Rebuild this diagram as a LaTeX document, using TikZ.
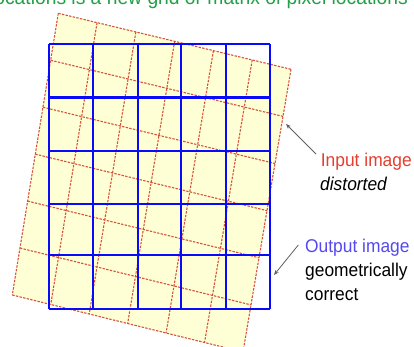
\documentclass[tikz,border=0pt]{standalone}
\usepackage{fontspec}
\setmainfont{Liberation Sans}
\usepackage{graphicx}
\usepackage{xcolor}
\usetikzlibrary{calc,arrows.meta}
\definecolor{paper}{RGB}{255,255,214}
\definecolor{warpred}{RGB}{214,82,58}
\definecolor{gridblue}{RGB}{10,10,250}
\definecolor{titlegreen}{RGB}{35,160,70}
\definecolor{labelred}{RGB}{228,62,48}
\definecolor{labelblue}{RGB}{84,72,240}
\definecolor{pointergray}{RGB}{95,95,95}
\newcommand{\squeeze}[1]{\scalebox{0.94}[1]{#1}}
\tikzset{
  % --- distorted input image -------------------------------------------------
  warp/.style={draw=warpred,line width=1.1pt,dash pattern=on 2.4pt off 1.3pt},
  % --- corrected output grid -------------------------------------------------
  outgrid/.style={draw=gridblue,line width=1.7pt},
  outthick/.style={outgrid,line width=3.2pt},
  % --- labels and pointers ---------------------------------------------------
  lab/.style={inner sep=0pt,anchor=base west,font=\fontsize{18.5}{24}\selectfont},
  pointer/.style={-{Stealth[length=5pt,width=4pt]},draw=pointergray,line width=0.8pt},
}

\begin{document}
\begin{tikzpicture}[x=1pt,y=-1pt]
  \useasboundingbox (0,0) rectangle (414,347);
  \clip (0,0) rectangle (414,347);

  \node[inner sep=0pt,anchor=base east,text=titlegreen,
        font=\fontsize{20.5}{24}\selectfont] (title) at (408,5)
        {\squeeze{ocations is a new grid or matrix of pixel locations}};

  % corners of the distorted input image
  \coordinate (tl) at (58.3,13.3);
  \coordinate (tr) at (291,69.3);
  \coordinate (bl) at (12.3,295);
  \coordinate (br) at (243,352);

  \fill[paper] (tl) -- (tr) -- (br) -- (bl) -- cycle;
  \foreach \k in {0,...,6} {
    \draw[warp] ($(tl)!\k/6!(tr)$) -- ($(bl)!\k/6!(br)$);
    \draw[warp] ($(tl)!\k/6!(bl)$) -- ($(tr)!\k/6!(br)$);
  }

  % output grid of pixel locations
  \foreach \xx in {49.3,93.3,138.3,181.3,225.7,270}
    \draw[outgrid] (\xx,44.3) -- (\xx,308.7);
  \foreach \yy in {44.3,150.7,204.3,255.3,308.7}
    \draw[outgrid] (49.3,\yy) -- (270,\yy);
  \draw[outthick] (49.3,97.7) -- (270,97.7);

  \node[lab,text=labelred] (inlabel) at (320.7,166.7) {\squeeze{Input image}};
  \node[lab] (indesc) at (320,190) {\squeeze{\itshape distorted}};
  \node[lab,text=labelblue] (outlabel) at (305,252.7) {\squeeze{Output image}};
  \node[lab] (outdesc) at (305,276) {\squeeze{geometrically}};
  \node[lab] (outdesc2) at (305,300.5) {\squeeze{correct}};

  \coordinate (inhit) at (286,124);
  \coordinate (outhit) at (274,275);
  \draw[pointer] ([shift={(-4.7,-12.7)}]inlabel.base west) -- (inhit);
  \draw[pointer] ([shift={(-6.7,-7.7)}]outlabel.base west) -- (outhit);
\end{tikzpicture}
\end{document}
